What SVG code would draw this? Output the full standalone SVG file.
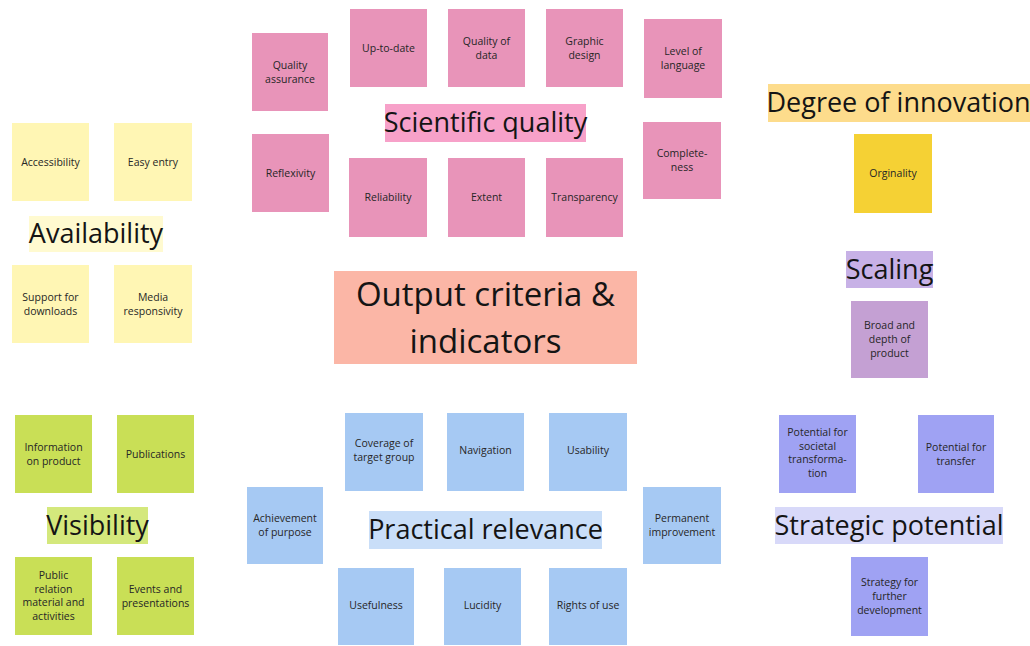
<svg xmlns="http://www.w3.org/2000/svg" width="1030" height="646" viewBox="0 0 1030 646">
  <style>
    .note { stroke: none; }
    .pk { fill: #e894b9; }
    .pk-l { fill: #f7a1c9; }
    .ye { fill: #fff6b4; }
    .ye-l { fill: #fffad0; }
    .go { fill: #f5d134; }
    .go-l { fill: #fddc8c; }
    .vi { fill: #c4a0d3; }
    .vi-l { fill: #c7b1e6; }
    .sa { fill: #fbb6a6; }
    .bl { fill: #a6c9f3; }
    .bl-l { fill: #c9def8; }
    .gr { fill: #c9df56; }
    .gr-l { fill: #d4e87c; }
    .pw { fill: #9fa2f3; }
    .pw-l { fill: #d8d9f9; }
    text { font-family: "Open Sans", "Noto Sans", "Liberation Sans", sans-serif; text-anchor: middle; }
    .t { font-size: 10.5px; fill: #262626; }
    .h { font-size: 27px; fill: #141414; }
    .hh { font-size: 33px; fill: #141414; }
  </style>

  <rect width="1030" height="646" fill="#ffffff"/>

  <!-- Scientific quality cluster -->
  <g id="scientific-quality">
    <rect class="pk-l" x="385" y="104" width="201" height="38"/>
    <text class="h" x="485.5" y="132">Scientific quality</text>
  </g>
  <g id="quality-assurance">
    <rect class="note pk" x="252" y="33" width="76" height="78"/>
    <text class="t"><tspan x="290" y="68.7">Quality</tspan><tspan x="290" y="82.7">assurance</tspan></text>
  </g>
  <g id="up-to-date">
    <rect class="note pk" x="350" y="9" width="77" height="78"/>
    <text class="t" x="388.5" y="51.7">Up-to-date</text>
  </g>
  <g id="quality-of-data">
    <rect class="note pk" x="448" y="9" width="77" height="78"/>
    <text class="t"><tspan x="486.5" y="44.7">Quality of</tspan><tspan x="486.5" y="58.7">data</tspan></text>
  </g>
  <g id="graphic-design">
    <rect class="note pk" x="546" y="9" width="77" height="78"/>
    <text class="t"><tspan x="584.5" y="44.7">Graphic</tspan><tspan x="584.5" y="58.7">design</tspan></text>
  </g>
  <g id="level-of-language">
    <rect class="note pk" x="644" y="19" width="78" height="79"/>
    <text class="t"><tspan x="683" y="55.2">Level of</tspan><tspan x="683" y="69.2">language</tspan></text>
  </g>
  <g id="reflexivity">
    <rect class="note pk" x="252" y="134" width="77" height="78"/>
    <text class="t" x="290.5" y="176.7">Reflexivity</text>
  </g>
  <g id="reliability">
    <rect class="note pk" x="349" y="158" width="78" height="79"/>
    <text class="t" x="388" y="201.2">Reliability</text>
  </g>
  <g id="extent">
    <rect class="note pk" x="448" y="158" width="77" height="79"/>
    <text class="t" x="486.5" y="201.2">Extent</text>
  </g>
  <g id="transparency">
    <rect class="note pk" x="546" y="158" width="77" height="79"/>
    <text class="t" x="584.5" y="201.2">Transparency</text>
  </g>
  <g id="completeness">
    <rect class="note pk" x="643" y="122" width="78" height="77"/>
    <text class="t"><tspan x="682" y="156.7">Complete-</tspan><tspan x="682" y="170.7">ness</tspan></text>
  </g>

  <!-- Availability cluster -->
  <g id="availability">
    <rect class="ye-l" x="29" y="216" width="134" height="36"/>
    <text class="h" x="96" y="243">Availability</text>
  </g>
  <g id="accessibility">
    <rect class="note ye" x="12" y="123" width="77" height="78"/>
    <text class="t" x="50.5" y="165.7">Accessibility</text>
  </g>
  <g id="easy-entry">
    <rect class="note ye" x="114" y="123" width="78" height="78"/>
    <text class="t" x="153" y="165.7">Easy entry</text>
  </g>
  <g id="support-for-downloads">
    <rect class="note ye" x="12" y="265" width="77" height="78"/>
    <text class="t"><tspan x="50.5" y="300.7">Support for</tspan><tspan x="50.5" y="314.7">downloads</tspan></text>
  </g>
  <g id="media-responsivity">
    <rect class="note ye" x="114" y="265" width="78" height="78"/>
    <text class="t"><tspan x="153" y="300.7">Media</tspan><tspan x="153" y="314.7">responsivity</tspan></text>
  </g>

  <!-- Degree of innovation cluster -->
  <g id="degree-of-innovation">
    <rect class="go-l" x="768" y="84" width="262" height="38"/>
    <text class="h" x="898.5" y="112">Degree of innovation</text>
  </g>
  <g id="orginality">
    <rect class="note go" x="854" y="134" width="78" height="79"/>
    <text class="t" x="893" y="177.2">Orginality</text>
  </g>

  <!-- Scaling cluster -->
  <g id="scaling">
    <rect class="vi-l" x="846" y="251" width="87" height="37"/>
    <text class="h" x="889.5" y="279">Scaling</text>
  </g>
  <g id="broad-and-depth">
    <rect class="note vi" x="851" y="301" width="77" height="77"/>
    <text class="t"><tspan x="889.5" y="329.2">Broad and</tspan><tspan x="889.5" y="343.2">depth of</tspan><tspan x="889.5" y="357.2">product</tspan></text>
  </g>

  <!-- Central title -->
  <g id="output-criteria">
    <rect class="sa" x="334" y="271" width="303" height="93"/>
    <text class="hh"><tspan x="485.5" y="306">Output criteria &amp;</tspan><tspan x="485.5" y="353">indicators</tspan></text>
  </g>

  <!-- Practical relevance cluster -->
  <g id="practical-relevance">
    <rect class="bl-l" x="369" y="511" width="233" height="38"/>
    <text class="h" x="485.5" y="539">Practical relevance</text>
  </g>
  <g id="coverage-of-target-group">
    <rect class="note bl" x="345" y="413" width="78" height="78"/>
    <text class="t"><tspan x="384" y="447.2">Coverage of</tspan><tspan x="384" y="461.2">target group</tspan></text>
  </g>
  <g id="navigation">
    <rect class="note bl" x="447" y="413" width="77" height="78"/>
    <text class="t" x="485.5" y="454.2">Navigation</text>
  </g>
  <g id="usability">
    <rect class="note bl" x="549" y="413" width="78" height="78"/>
    <text class="t" x="588" y="454.2">Usability</text>
  </g>
  <g id="achievement-of-purpose">
    <rect class="note bl" x="247" y="487" width="76" height="77"/>
    <text class="t"><tspan x="285" y="522.2">Achievement</tspan><tspan x="285" y="536.2">of purpose</tspan></text>
  </g>
  <g id="permanent-improvement">
    <rect class="note bl" x="643" y="487" width="78" height="77"/>
    <text class="t"><tspan x="682" y="522.2">Permanent</tspan><tspan x="682" y="536.2">improvement</tspan></text>
  </g>
  <g id="usefulness">
    <rect class="note bl" x="338" y="568" width="76" height="77"/>
    <text class="t" x="376" y="609.2">Usefulness</text>
  </g>
  <g id="lucidity">
    <rect class="note bl" x="444" y="568" width="77" height="77"/>
    <text class="t" x="482.5" y="609.2">Lucidity</text>
  </g>
  <g id="rights-of-use">
    <rect class="note bl" x="549" y="568" width="78" height="77"/>
    <text class="t" x="588" y="609.2">Rights of use</text>
  </g>

  <!-- Visibility cluster -->
  <g id="visibility">
    <rect class="gr-l" x="47" y="507" width="101" height="37"/>
    <text class="h" x="97.5" y="535">Visibility</text>
  </g>
  <g id="information-on-product">
    <rect class="note gr" x="15" y="415" width="77" height="78"/>
    <text class="t"><tspan x="53.5" y="450.7">Information</tspan><tspan x="53.5" y="464.7">on product</tspan></text>
  </g>
  <g id="publications">
    <rect class="note gr" x="117" y="415" width="77" height="78"/>
    <text class="t" x="155.5" y="457.7">Publications</text>
  </g>
  <g id="public-relation">
    <rect class="note gr" x="15" y="557" width="77" height="78"/>
    <text class="t"><tspan x="53.5" y="578.9">Public</tspan><tspan x="53.5" y="592.6">relation</tspan><tspan x="53.5" y="606.3">material and</tspan><tspan x="53.5" y="620">activities</tspan></text>
  </g>
  <g id="events-and-presentations">
    <rect class="note gr" x="117" y="557" width="77" height="78"/>
    <text class="t"><tspan x="155.5" y="592.7">Events and</tspan><tspan x="155.5" y="606.7">presentations</tspan></text>
  </g>

  <!-- Strategic potential cluster -->
  <g id="strategic-potential">
    <rect class="pw-l" x="775" y="507" width="228" height="37"/>
    <text class="h" x="889" y="535">Strategic potential</text>
  </g>
  <g id="potential-societal">
    <rect class="note pw" x="779" y="415" width="77" height="78"/>
    <text class="t"><tspan x="817.5" y="435.9">Potential for</tspan><tspan x="817.5" y="449.6">societal</tspan><tspan x="817.5" y="463.3">transforma-</tspan><tspan x="817.5" y="477">tion</tspan></text>
  </g>
  <g id="potential-for-transfer">
    <rect class="note pw" x="918" y="415" width="76" height="78"/>
    <text class="t"><tspan x="956" y="450.7">Potential for</tspan><tspan x="956" y="464.7">transfer</tspan></text>
  </g>
  <g id="strategy-further-development">
    <rect class="note pw" x="851" y="557" width="77" height="79"/>
    <text class="t"><tspan x="889.5" y="586.2">Strategy for</tspan><tspan x="889.5" y="600.2">further</tspan><tspan x="889.5" y="614.2">development</tspan></text>
  </g>
</svg>
